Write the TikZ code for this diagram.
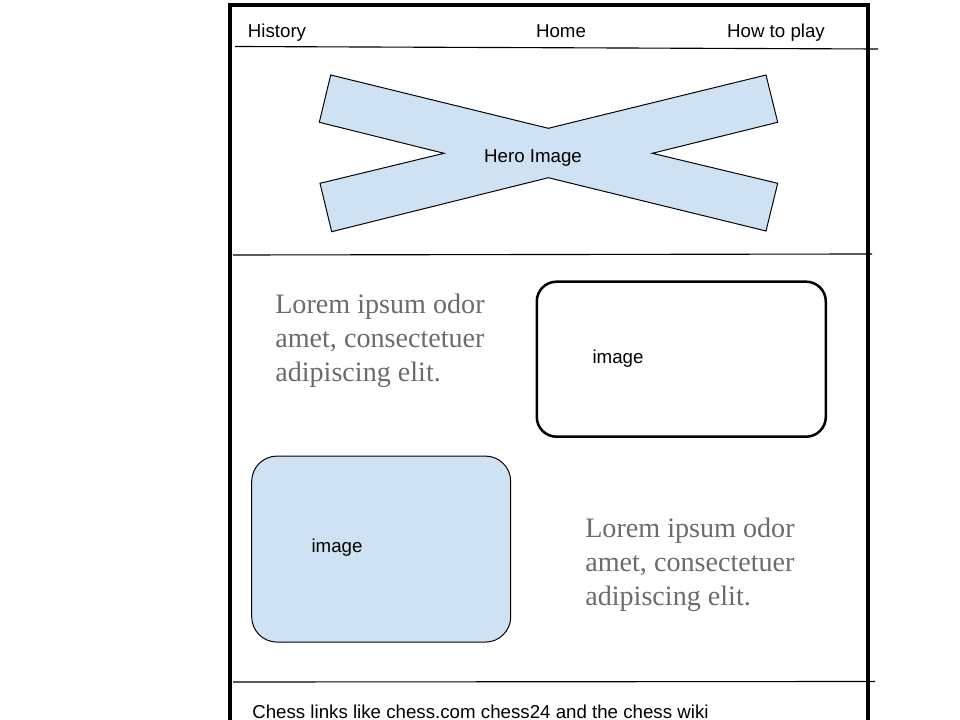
\documentclass[tikz,border=0pt]{standalone}
\usepackage{fontspec}
\setmainfont{Liberation Sans}
\newfontfamily\loremfont{Liberation Serif}
\usetikzlibrary{positioning}

\definecolor{heroblue}{HTML}{CFE2F3}
\definecolor{loremgray}{HTML}{6B6B6B}

\begin{document}
\begin{tikzpicture}[x=0.025cm, y=-0.025cm,
		label/.style={font=\fontsize{13.3}{15}\selectfont, anchor=base, inner sep=0pt},
		lorem/.style={font=\loremfont\fontsize{20}{24.2}\selectfont, text=loremgray, align=left, anchor=base west, inner sep=0pt},
		divider/.style={line width=0.8pt}]
				\useasboundingbox (0,0) rectangle (960,720);
				% page frame
				\draw [line width=2.2pt] (230,740) -- (230,5) -- (868,5) -- (868,740);
				
				% navigation
				\node [label] (history) at (277,38) {History};
				\node [label] (home) at (561,38) {Home};
				\node [label] (howto) at (776,38) {How to play};
				\coordinate (navl) at (235,46.5);
				\coordinate (navr) at (878,49);
				\draw [divider] (navl) -- (navr);
				
				% hero
				\draw [fill=heroblue, line width=0.7pt] (330.7,75) -- (548.3,128.3) -- (766,75) -- (777.7,122.3)
					-- (652.3,153.3) -- (777.7,183.3) -- (766,231) -- (548.3,177.7) -- (331.7,231.7)
					-- (320,183.3) -- (444,153.3) -- (319.3,122.3) -- cycle;
				\node [label] (hero) at (533,163) {Hero Image};
				\coordinate (herol) at (233,255);
				\coordinate (heror) at (872,254);
				\draw [divider] (herol) -- (heror);
				
				% content (base = last line)
				\node [lorem] (lorem1) at (275,381.5) {Lorem ipsum odor\\amet, consectetuer\\adipiscing elit.};
				\node [draw, line width=1.8pt, rounded corners=14pt, minimum width=289*0.025cm, minimum height=155*0.025cm] (img1) at (681.3,359.2) {};
				\node [label] (img1text) at (618,363.5) {image};
				\node [draw, fill=heroblue, line width=0.7pt, rounded corners=18pt, minimum width=259*0.025cm, minimum height=186*0.025cm] (img2) at (381.2,549.1) {};
				\node [label] (img2text) at (337,552.5) {image};
				\node [lorem] (lorem2) at (585,605.5) {Lorem ipsum odor\\amet, consectetuer\\adipiscing elit.};
				
				% footer
				\coordinate (footl) at (233,682);
				\coordinate (footr) at (875,681.5);
				\draw [divider] (footl) -- (footr);
				\node [label, anchor=base west] (links) at (252,718) {Chess links like chess.com chess24 and the chess wiki};
			\end{tikzpicture}
\end{document}
